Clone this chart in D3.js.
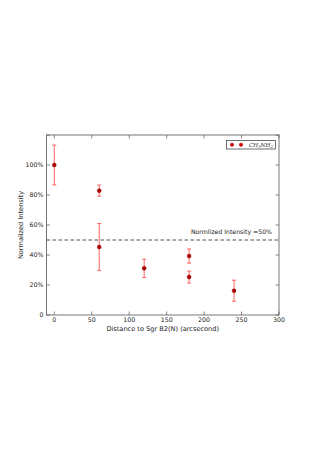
<!DOCTYPE html>
<html><head><meta charset="utf-8">
<script src="https://cdn.jsdelivr.net/npm/d3@7"></script>
<style>body{margin:0;background:#fff}svg{display:block}text{font-family:"DejaVu Sans",sans-serif;fill:#222}</style>
</head><body>
<svg id="c" width="319" height="451"></svg>
<script>
const distances = [0, 60, 60, 120, 180, 180, 240];
const intensities = [100, 82.9, 45.3, 31.1, 39.3, 25.3, 16.2];
const errors = [13.3, 3.7, 15.7, 6.1, 4.7, 4.0, 7.0];
const xTicks = [0, 50, 100, 150, 200, 250, 300];
const yTicks = [0, 20, 40, 60, 80, 100, 120];
const threshold = 50;

const svg = d3.select("#c");
const L = 46.5, R = 279, T = 135, B = 315;
const x = d3.scaleLinear().domain([-10, 300]).range([L + 0.3, R]);
const y = d3.scaleLinear().domain([0, 120]).range([B, T]);
const fs = 6.3;

// frame
svg.append("rect").attr("x", L).attr("y", T).attr("width", R - L).attr("height", B - T)
  .attr("fill", "none").attr("stroke", "#555").attr("stroke-width", 0.8);

// ticks (inside, all four sides)
const tk = 3.5;
const g = svg.append("g").attr("stroke", "#555").attr("stroke-width", 0.7);
xTicks.forEach(v => {
  g.append("line").attr("x1", x(v)).attr("x2", x(v)).attr("y1", B).attr("y2", B - tk);
  g.append("line").attr("x1", x(v)).attr("x2", x(v)).attr("y1", T).attr("y2", T + tk);
});
yTicks.forEach(v => {
  g.append("line").attr("x1", L).attr("x2", L + tk).attr("y1", y(v)).attr("y2", y(v));
  g.append("line").attr("x1", R).attr("x2", R - tk).attr("y1", y(v)).attr("y2", y(v));
});
xTicks.forEach(v => {
  svg.append("text").attr("x", x(v)).attr("y", B + 7.4).attr("text-anchor", "middle")
    .attr("font-size", fs).text(v);
});
yTicks.filter(v => v < 120).forEach(v => {
  svg.append("text").attr("x", L - 3).attr("y", y(v) + 2.2).attr("text-anchor", "end")
    .attr("font-size", fs).text(v === 0 ? "0" : v + "%");
});

// axis labels
svg.append("text").attr("x", (L + R) / 2).attr("y", 331).attr("text-anchor", "middle")
  .attr("font-size", 6.6).text("Distance to Sgr B2(N) (arcsecond)");
svg.append("text").attr("transform", `translate(23,${(T + B) / 2}) rotate(-90)`)
  .attr("text-anchor", "middle").attr("font-size", 6.6).text("Normalized Intensity");

// threshold line
svg.append("line").attr("x1", L).attr("x2", R).attr("y1", y(threshold)).attr("y2", y(threshold))
  .attr("stroke", "#222").attr("stroke-width", 0.8).attr("stroke-dasharray", "3.5,2.5");
svg.append("text").attr("x", 272).attr("y", y(threshold) - 6).attr("text-anchor", "end")
  .attr("font-size", 6.2).text("Normlized Intensity =50%");

// error bars
const eb = svg.append("g").attr("stroke", "#f55").attr("stroke-width", 0.9);
distances.forEach((d, i) => {
  const cx = x(d), y1 = y(intensities[i] + errors[i]), y2 = y(intensities[i] - errors[i]);
  eb.append("line").attr("x1", cx).attr("x2", cx).attr("y1", y1).attr("y2", y2);
  eb.append("line").attr("x1", cx - 2).attr("x2", cx + 2).attr("y1", y1).attr("y2", y1);
  eb.append("line").attr("x1", cx - 2).attr("x2", cx + 2).attr("y1", y2).attr("y2", y2);
});
// points
svg.append("g").selectAll("circle").data(distances).join("circle")
  .attr("cx", d => x(d)).attr("cy", (d, i) => y(intensities[i])).attr("r", 2)
  .attr("fill", "#b00000").attr("stroke", "#800").attr("stroke-width", 0.4);

// legend
const lg = svg.append("g");
lg.append("rect").attr("x", 226.5).attr("y", 140.5).attr("width", 49).attr("height", 8.5)
  .attr("fill", "#fff").attr("stroke", "#333").attr("stroke-width", 0.7);
[232, 241].forEach(cx => lg.append("circle").attr("cx", cx).attr("cy", 144.7).attr("r", 1.8)
  .attr("fill", "#d00000").attr("stroke", "#900").attr("stroke-width", 0.3));
const lt = lg.append("text").attr("x", 249).attr("y", 146.8).attr("font-size", 5.6)
  .attr("font-style", "italic").style("font-family", "'DejaVu Serif',serif");
lt.append("tspan").text("CH");
lt.append("tspan").attr("font-size", 3.8).attr("dy", 1.2).text("3");
lt.append("tspan").attr("dy", -1.2).text("NH");
lt.append("tspan").attr("font-size", 3.8).attr("dy", 1.2).text("2");
</script>
</body></html>
